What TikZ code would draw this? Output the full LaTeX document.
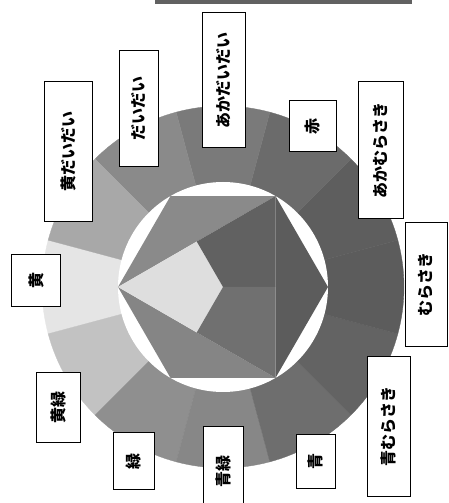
\documentclass[tikz,border=0pt]{standalone}
\usepackage{fontspec}
\newfontfamily\jp{Noto Sans CJK JP}
\begin{document}
\begin{tikzpicture}[x=1pt,y=1pt,
  lab/.style={draw=black, line width=1pt, fill=white, rotate=90, inner sep=0pt,
    font=\jp\bfseries\fontsize{16}{16}\selectfont},
  sect/.style={line width=0.3pt}]
\useasboundingbox (0,0) rectangle (448,503);
\coordinate (c) at (223,216);
% outer ring sectors (angle centre / gray)
\foreach \a/\g in {180/90, 210/76, 240/56, 270/53, 300/43, 330/39, 0/36, 30/37, 60/42, 90/48, 120/54, 150/66}{
  \fill[black!\the\numexpr100-\g\relax, draw=black!\the\numexpr100-\g\relax, sect]
    (c) -- ++({\a-15}:181) arc[start angle=\a-15, end angle=\a+15, radius=181] -- cycle;
}
% inner white disc
\fill[white] (c) circle[radius=105];
% hexagon vertices
\foreach \k in {0,60,120,180,240,300}{ \path (c) ++(\k:105) coordinate (h\k); }
\path (c) ++(120:52.5) coordinate (mTop);   % midpoint h180-h60
\path (c) ++(240:52.5) coordinate (mBot);   % midpoint h180-h300
\path (c) ++(0:52.5) coordinate (mRight);   % midpoint h60-h300
% outer triangles of hexagon
\fill[black!46] (h180) -- (h120) -- (h60) -- cycle;
\fill[black!64] (h60) -- (h0) -- (h300) -- cycle;
\fill[black!48] (h180) -- (h240) -- (h300) -- cycle;
% kites of the central triangle
\fill[black!13] (h180) -- (mTop) -- (c) -- (mBot) -- cycle;
\fill[black!62] (h60) -- (mRight) -- (c) -- (mTop) -- cycle;
\fill[black!56] (h300) -- (mBot) -- (c) -- (mRight) -- cycle;
% top bar
\fill[black!62] (155,499) rectangle (412,503);
% labels
\node[lab, minimum width=135, minimum height=43] (l1)  at (223.5,422.5) {あかだいだい};
\node[lab, minimum width=116, minimum height=39] (l2)  at (138.5,394) {だいだい};
\node[lab, minimum width=140, minimum height=48] (l3)  at (68,351) {黄だいだい};
\node[lab, minimum width=52,  minimum height=49] (l4)  at (36,222) {黄};
\node[lab, minimum width=70,  minimum height=44] (l5)  at (58,95) {黄緑};
\node[lab, minimum width=57,  minimum height=41] (l6)  at (133.5,41.5) {緑};
\node[lab, minimum width=90,  minimum height=40] (l7)  at (223,31) {青緑};
\node[lab, minimum width=54,  minimum height=39] (l8)  at (315.5,41) {青};
\node[lab, minimum width=140, minimum height=43] (l9)  at (388.5,76) {青むらさき};
\node[lab, minimum width=124, minimum height=42] (l10) at (426,218) {むらさき};
\node[lab, minimum width=137, minimum height=45] (l11) at (380.5,352.5) {あかむらさき};
\node[lab, minimum width=51,  minimum height=47] (l12) at (312.5,376.5) {赤};
\end{tikzpicture}
\end{document}
